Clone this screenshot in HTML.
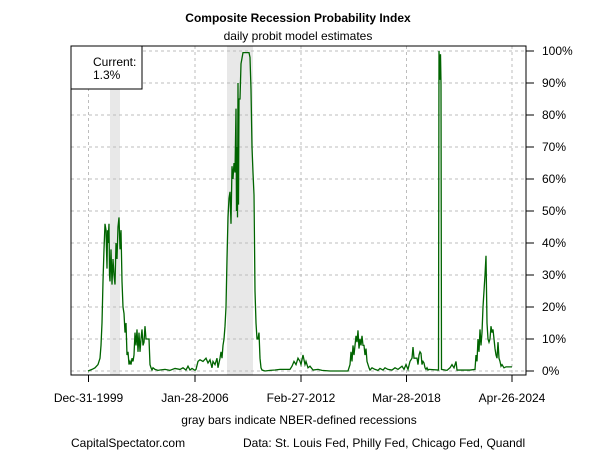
<!DOCTYPE html>
<html><head><meta charset="utf-8"><style>
html,body{margin:0;padding:0;background:#fff;}
svg{display:block;font-family:"Liberation Sans",Arial,sans-serif;}
</style></head><body>
<svg width="600" height="450" viewBox="0 0 600 450" xmlns="http://www.w3.org/2000/svg">
<rect width="600" height="450" fill="#fff"/>
<text x="298" y="22" font-size="12" font-weight="bold" text-anchor="middle">Composite Recession Probability Index</text>
<text x="298" y="40" font-size="12" text-anchor="middle">daily probit model estimates</text>
<!-- recession bars -->
<rect x="110" y="46" width="10" height="329" fill="#e8e8e8"/>
<rect x="227" y="46" width="26" height="329" fill="#e8e8e8"/>
<!-- grid -->
<g stroke="#bdbdbd" stroke-dasharray="3,3" stroke-width="1">
<line x1="71" x2="526" y1="51" y2="51"/><line x1="71" x2="526" y1="83" y2="83"/>
<line x1="71" x2="526" y1="115" y2="115"/><line x1="71" x2="526" y1="147" y2="147"/>
<line x1="71" x2="526" y1="179" y2="179"/><line x1="71" x2="526" y1="211" y2="211"/>
<line x1="71" x2="526" y1="243" y2="243"/><line x1="71" x2="526" y1="275" y2="275"/>
<line x1="71" x2="526" y1="307" y2="307"/><line x1="71" x2="526" y1="339" y2="339"/>
<line x1="71" x2="526" y1="371" y2="371"/>
<line x1="88.5" x2="88.5" y1="46" y2="375"/><line x1="195" x2="195" y1="46" y2="375"/>
<line x1="301" x2="301" y1="46" y2="375"/><line x1="406.5" x2="406.5" y1="46" y2="375"/>
<line x1="512" x2="512" y1="46" y2="375"/>
</g>
<g transform="translate(0,371) scale(1,-3.2)">
<polyline fill="none" stroke="#006400" stroke-width="1.3" vector-effect="non-scaling-stroke" stroke-linejoin="miter" points="88,0 92,0.5 95,1 98,2 100,4 101,8 102,15 103,28 104,38 105,46 106,44 107,32 107.5,44 108,40 109,46 109.5,30 110,28 111,38 112,27 113,35 114,30 115,27 116,40 117,35 118,45 119,48 120,38 121,44 122,28 123,20 124,18 125,12 126,15 127,5 128,6 129,2 130,3 131,2 132,4 133,3 134,5 135,12 136,8 137,13 138,6 139,12 140,6 141,10 142,13 143,8 144,9 145,14 146,10 147,10 148,10 149,10 150,2 151,1 152,0.3 153,1 155,0.5 158,0.2 160,0.3 165,0.5 170,0.2 175,0.8 180,0.5 183,1 186,0.3 188,1.5 190,0.3 192,0.8 195,0.2 196,0.5 198,3 200,3.5 203,3 206,4 208,2.5 210,3.5 212,1 213,3 215,2 217,4 218,1 220,4 221,6 222,4 223,8 224,10 225,14 226,20 227,35 228,48 229,54 230,56 231,46 232,64 233,60 234,65 235,62 236,82 236.5,50 237,70 237.5,48 238,90 238.5,52 239,85 240,85 241,96 243,99.5 249,99.5 250,98 251,88 252,70 253,62 254,55 255,25 256,15 257,10 258,10 259,12 260,4 261,1 262,0.3 265,0 270,0.2 275,0.3 280,0.5 290,0.5 292,1.5 294,3 296,2 298,4 300,3 301,2 303,5 305,2 306,3 308,1 310,1.5 313,0.3 318,0.5 322,0.2 330,0 348,0 349,1 350,2 351,6 352,3 353,8 354,5 355,8 356,11 357,9 358,12.7 359,7 360,10 361,8 362,11 363,8 364,8 365,5 366,7 367,3 368,2 369,1 370,0.3 372,1 375,0.5 378,0.2 380,0.8 383,0.3 385,1 388,0.5 392,0.3 395,1 398,0.5 402,1.5 404,0.5 406,2 408,0.5 410,3 412,4 413,7.5 414,4 417,4 418,2 419,5 420,6 421,5.5 422,2 423,3 424,2.5 425,1 426,0.5 427,1 428,0.3 429,0.5 438.5,0.3 439,100 440,91 440.5,99 441,90 441.5,0.5 445,0.3 447,0.2 450,1 452,2 454,1 456,3 457,0.3 470,0.3 475,0.5 476,5 477,3 478,10 479,6 480,13 481,8 482,12 483,20 484,25 485,30 486,36 487,15 488,10 489,9 490,10 491,14 492,12 493,13 494,10 495,7 496,5 497,4 498,9 499,4 500,3 501,1.5 502,2 504,1 506,1.3 512,1.3"/>
</g>
<!-- box -->
<rect x="71" y="46" width="455" height="329" fill="none" stroke="#000" stroke-width="1"/>
<!-- legend -->
<rect x="71" y="46" width="71" height="43" fill="#fff" stroke="#000" stroke-width="1"/>
<text x="93" y="66" font-size="12">Current:</text>
<text x="93" y="79" font-size="12">1.3%</text>
<!-- right axis -->
<g stroke="#000" stroke-width="1">
<line x1="526" x2="534" y1="51" y2="51"/><line x1="526" x2="534" y1="83" y2="83"/>
<line x1="526" x2="534" y1="115" y2="115"/><line x1="526" x2="534" y1="147" y2="147"/>
<line x1="526" x2="534" y1="179" y2="179"/><line x1="526" x2="534" y1="211" y2="211"/>
<line x1="526" x2="534" y1="243" y2="243"/><line x1="526" x2="534" y1="275" y2="275"/>
<line x1="526" x2="534" y1="307" y2="307"/><line x1="526" x2="534" y1="339" y2="339"/>
<line x1="526" x2="534" y1="371" y2="371"/>
<line x1="88.5" x2="88.5" y1="375" y2="382"/><line x1="195" x2="195" y1="375" y2="382"/>
<line x1="301" x2="301" y1="375" y2="382"/><line x1="406.5" x2="406.5" y1="375" y2="382"/>
<line x1="512" x2="512" y1="375" y2="382"/>
</g>
<g font-size="12">
<text x="542" y="55">100%</text><text x="542" y="87">90%</text><text x="542" y="119">80%</text>
<text x="542" y="151">70%</text><text x="542" y="183">60%</text><text x="542" y="215">50%</text>
<text x="542" y="247">40%</text><text x="542" y="279">30%</text><text x="542" y="311">20%</text>
<text x="542" y="343">10%</text><text x="542" y="375">0%</text>
</g>
<g font-size="12" text-anchor="middle">
<text x="88.5" y="402">Dec-31-1999</text><text x="195" y="402">Jan-28-2006</text>
<text x="301" y="402">Feb-27-2012</text><text x="406.5" y="402">Mar-28-2018</text>
<text x="512" y="402">Apr-26-2024</text>
<text x="299" y="424">gray bars indicate NBER-defined recessions</text>
</g>
<text x="71" y="447" font-size="12">CapitalSpectator.com</text>
<text x="243" y="447" font-size="12">Data: St. Louis Fed, Philly Fed, Chicago Fed, Quandl</text>
</svg>
</body></html>
